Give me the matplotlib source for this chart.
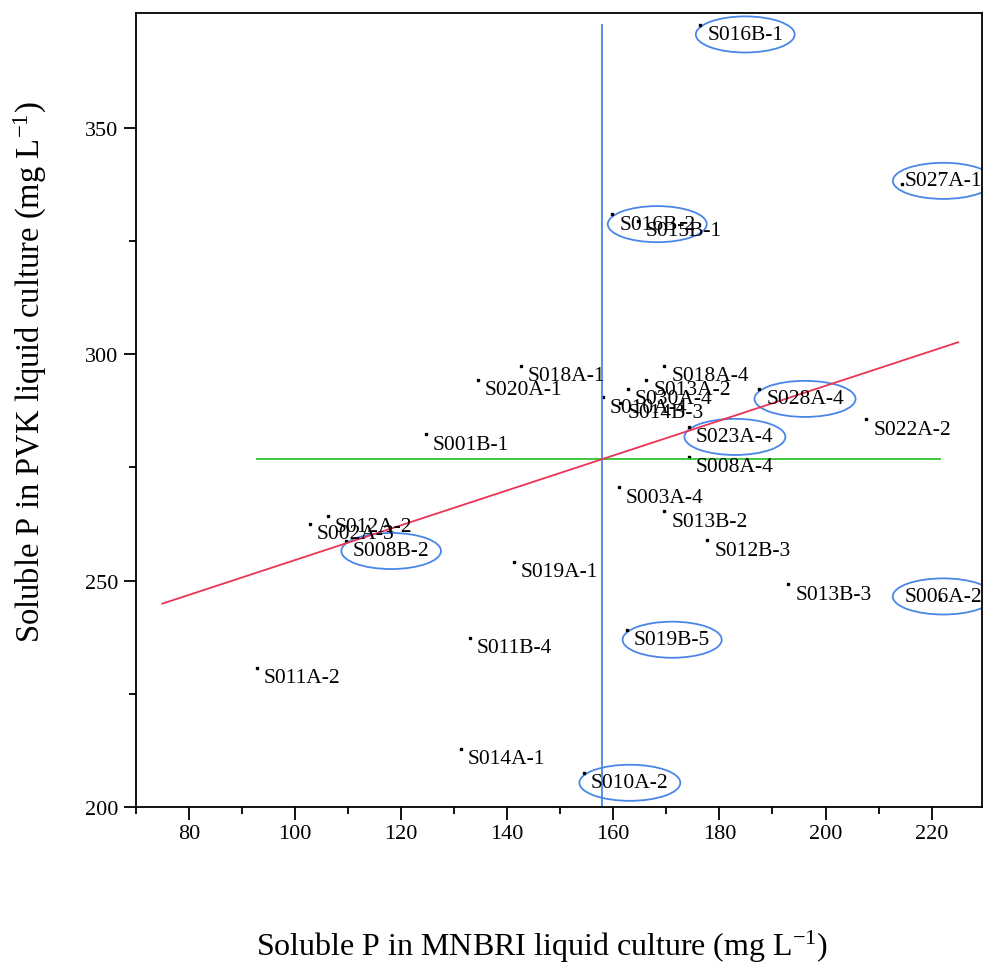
# soluble P: MNBRI vs PVK liquid culture, with means and fitted line
import matplotlib
matplotlib.use("Agg")
import matplotlib.pyplot as plt
from matplotlib.patches import Ellipse
import numpy as np

plt.rcParams["font.family"] = ["Liberation Serif", "DejaVu Serif"]
plt.rcParams["mathtext.default"] = "regular"

names = [
    "S016B-1", "S027A-1", "S016B-2", "S015B-1", "S018A-1", "S020A-1",
    "S018A-4", "S013A-2", "S030A-4", "S010A-4", "S014B-3", "S028A-4",
    "S023A-4", "S022A-2", "S001B-1", "S008A-4", "S003A-4", "S013B-2",
    "S012B-3", "S012A-2", "S002A-3", "S008B-2", "S019A-1", "S013B-3",
    "S006A-2", "S019B-5", "S011B-4", "S011A-2", "S014A-1", "S010A-2",
]
mnbri = [
    176.4, 214.5, 159.8, 164.7, 142.6, 134.5,
    169.6, 166.2, 162.8, 158.0, 161.3, 187.5,
    174.3, 207.7, 124.7, 174.3, 161.1, 169.6,
    177.7, 106.2, 102.8, 109.6, 141.3, 193.0,
    221.5, 162.6, 133.0, 92.8, 131.3, 154.5,
]
pvk = [
    372.8, 337.7, 330.9, 329.5, 297.4, 294.3,
    297.4, 294.3, 292.3, 290.5, 289.3, 292.3,
    283.9, 285.6, 282.3, 277.3, 270.6, 265.3,
    258.9, 264.2, 262.5, 258.7, 254.1, 249.2,
    245.9, 239.1, 237.3, 230.7, 212.8, 207.5,
]
# isolates circled in the figure
circled = ["S016B-1", "S027A-1", "S016B-2", "S028A-4", "S023A-4",
           "S008B-2", "S006A-2", "S019B-5", "S010A-2"]

x = np.array(mnbri)
y = np.array(pvk)

fig = plt.figure(figsize=(9.84, 9.70), dpi=100)
ax = fig.add_axes([0.138, 0.167, 0.860, 0.8186])

ax.plot(x, y, "s", color="black", markersize=2)

# means
ax.plot([x.mean(), x.mean()], [200, y.max()], color="#4a86e8", lw=1.3)
ax.plot([x.min(), x.max()], [y.mean(), y.mean()], color="#2ec62e", lw=1.3)

# fitted line
k, b = np.polyfit(x, y, 1)
xs = np.array([75, 225])
ax.plot(xs, k * xs + b, color="#ec3355", lw=1.3)

texts = []
for n, xi, yi in zip(names, x, y):
    t = ax.annotate(n, (xi, yi), xytext=(5, -7), textcoords="offset points",
                    ha="left", va="center", fontsize=15.5)
    texts.append(t)

ax.set_xlim(70, 229.5)
ax.set_ylim(200, 375.4)
ax.set_xticks(np.arange(80, 230, 20))
ax.set_xticks(np.arange(70, 230, 10), minor=True)
ax.set_yticks([200, 250, 300, 350])
ax.set_yticks([225, 275, 325], minor=True)
ax.tick_params(which="major", direction="out", length=9, width=1.3, labelsize=16)
ax.tick_params(which="minor", direction="out", length=5, width=1.3)
for s in ax.spines.values():
    s.set_linewidth(1.3)

ax.set_xlabel("Soluble P in MNBRI liquid culture (mg L$^{-1}$)", fontsize=23)
ax.set_ylabel("Soluble P in PVK liquid culture (mg L$^{-1}$)", fontsize=23.5)
ax.xaxis.set_label_coords(0.48, -0.152)
ax.yaxis.set_label_coords(-0.103, 0.549)

# keep labels inside the axes, then circle the marked ones
fig.canvas.draw()
r = fig.canvas.get_renderer()
axbox = ax.get_window_extent(r)
inv = ax.transData.inverted()
for t in texts:
    bb = t.get_window_extent(r)
    if bb.x1 > axbox.x1:
        dx = (bb.x1 - axbox.x1) / fig.dpi * 72
        t.set_position((5 - dx, 2))
fig.canvas.draw()
for t in texts:
    if t.get_text() not in circled:
        continue
    bb = t.get_window_extent(r)
    (x0, y0), (x1, y1) = inv.transform([[bb.x0, bb.y0], [bb.x1, bb.y1]])
    ax.add_patch(Ellipse(((x0 + x1) / 2, (y0 + y1) / 2), (x1 - x0) * 1.3,
                         (y1 - y0) * 1.9, fill=False, edgecolor="#4a86e8", lw=1.3))

fig.savefig("out.png", dpi=100)
